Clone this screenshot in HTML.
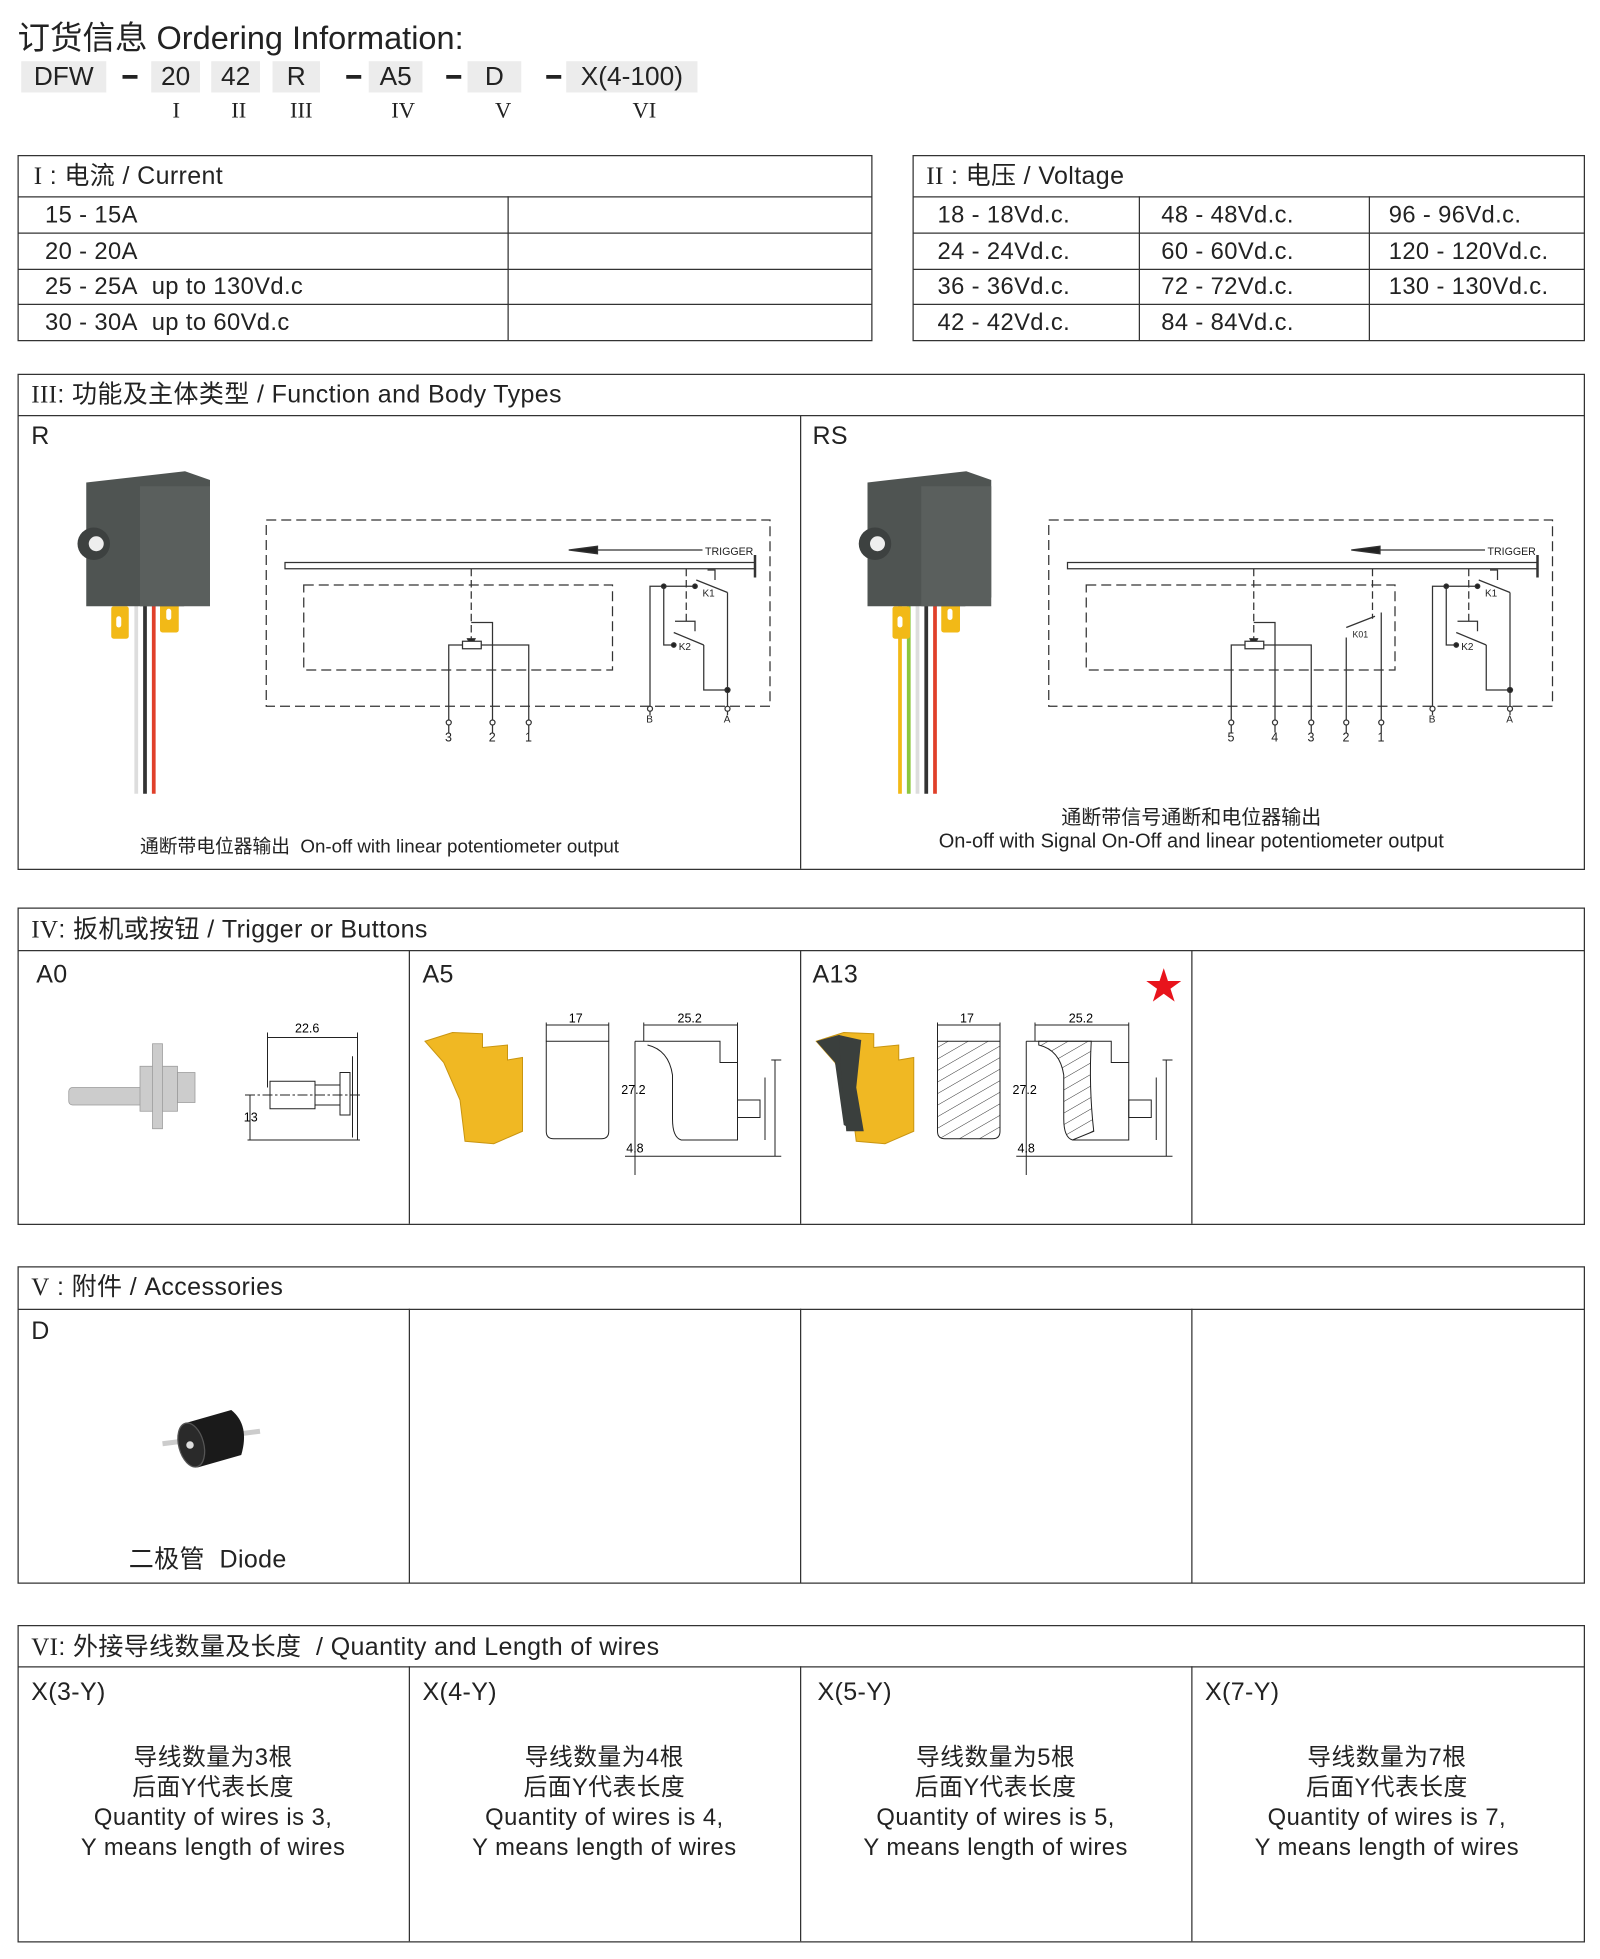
<!DOCTYPE html>
<html><head><meta charset="utf-8">
<style>
html,body{margin:0;padding:0;background:#fff;}
body{width:1600px;height:1959px;overflow:hidden;position:relative;}
#w{position:absolute;left:0;top:0;width:1280px;height:1567px;transform:scale(1.25);transform-origin:0 0;font-family:"Liberation Sans","Noto Sans CJK SC",sans-serif;color:#222;}
.a{position:absolute;}
.box{position:absolute;border:1.6px solid #333;box-sizing:border-box;}
.hl{position:absolute;height:0;border-top:1.6px solid #333;}
.vl{position:absolute;width:0;border-left:1.6px solid #333;}
.code{position:absolute;top:49px;height:25px;background:#ececec;font-size:21px;line-height:26px;text-align:center;}
.dash{position:absolute;top:60px;width:12px;height:3px;background:#222;}
.rn{position:absolute;top:78px;font-family:"Liberation Serif",serif;font-size:18px;}
.t{position:absolute;font-size:19px;white-space:nowrap;letter-spacing:0.3px;}
.h{position:absolute;font-size:20px;white-space:nowrap;line-height:22px;letter-spacing:0.3px;}
.c{position:absolute;font-size:19px;text-align:center;line-height:24px;letter-spacing:0.4px;}
</style></head><body><div id="w">

<div class="a" style="left:14px;top:10px;font-size:26px;">订货信息 Ordering Information:</div>
<div class="code" style="left:17px;width:68px;">DFW</div>
<div class="dash" style="left:98px;"></div>
<div class="code" style="left:121px;width:39px;">20</div>
<div class="code" style="left:169px;width:39px;">42</div>
<div class="code" style="left:218px;width:38px;">R</div>
<div class="dash" style="left:277px;"></div>
<div class="code" style="left:295px;width:43px;">A5</div>
<div class="dash" style="left:357px;"></div>
<div class="code" style="left:374px;width:43px;">D</div>
<div class="dash" style="left:437px;"></div>
<div class="code" style="left:453px;width:105px;">X(4-100)</div>
<div class="rn" style="left:138px;">I</div>
<div class="rn" style="left:185px;">II</div>
<div class="rn" style="left:232px;">III</div>
<div class="rn" style="left:313px;">IV</div>
<div class="rn" style="left:396px;">V</div>
<div class="rn" style="left:506px;">VI</div>

<!-- Table I -->
<div class="box" style="left:14px;top:124px;width:684px;height:149px;"></div>
<div class="hl" style="left:14px;top:157px;width:684px;"></div>
<div class="hl" style="left:14px;top:186px;width:684px;"></div>
<div class="hl" style="left:14px;top:215px;width:684px;"></div>
<div class="hl" style="left:14px;top:243px;width:684px;"></div>
<div class="vl" style="left:406px;top:157px;height:115px;"></div>
<div class="h" style="left:27px;top:130px;"><span style="font-family:'Liberation Serif',serif">I</span> : 电流 / Current</div>
<div class="t" style="left:36px;top:162px;">15 - 15A</div>
<div class="t" style="left:36px;top:191px;">20 - 20A</div>
<div class="t" style="left:36px;top:219px;">25 - 25A&nbsp; up to 130Vd.c</div>
<div class="t" style="left:36px;top:248px;">30 - 30A&nbsp; up to 60Vd.c</div>

<!-- Table II -->
<div class="box" style="left:730px;top:124px;width:538px;height:149px;"></div>
<div class="hl" style="left:730px;top:157px;width:538px;"></div>
<div class="hl" style="left:730px;top:186px;width:538px;"></div>
<div class="hl" style="left:730px;top:215px;width:538px;"></div>
<div class="hl" style="left:730px;top:243px;width:538px;"></div>
<div class="vl" style="left:911px;top:157px;height:115px;"></div>
<div class="vl" style="left:1095px;top:157px;height:115px;"></div>
<div class="h" style="left:741px;top:130px;"><span style="font-family:'Liberation Serif',serif">II</span> : 电压 / Voltage</div>
<div class="t" style="left:750px;top:162px;">18 - 18Vd.c.</div>
<div class="t" style="left:750px;top:191px;">24 - 24Vd.c.</div>
<div class="t" style="left:750px;top:219px;">36 - 36Vd.c.</div>
<div class="t" style="left:750px;top:248px;">42 - 42Vd.c.</div>
<div class="t" style="left:929px;top:162px;">48 - 48Vd.c.</div>
<div class="t" style="left:929px;top:191px;">60 - 60Vd.c.</div>
<div class="t" style="left:929px;top:219px;">72 - 72Vd.c.</div>
<div class="t" style="left:929px;top:248px;">84 - 84Vd.c.</div>
<div class="t" style="left:1111px;top:162px;">96 - 96Vd.c.</div>
<div class="t" style="left:1111px;top:191px;">120 - 120Vd.c.</div>
<div class="t" style="left:1111px;top:219px;">130 - 130Vd.c.</div>

<!-- Section III -->
<div class="box" style="left:14px;top:299px;width:1254px;height:397px;"></div>
<div class="hl" style="left:14px;top:332px;width:1254px;"></div>
<div class="vl" style="left:640px;top:332px;height:363px;"></div>
<div class="h" style="left:25px;top:305px;"><span style="font-family:'Liberation Serif',serif">III</span>: 功能及主体类型 / Function and Body Types</div>
<div class="h" style="left:25px;top:338px;">R</div>
<div class="h" style="left:650px;top:338px;">RS</div>
<div class="a" style="left:112px;top:666px;font-size:15px;white-space:nowrap;">通断带电位器输出&nbsp; On-off with linear potentiometer output</div>
<div class="a" style="left:640px;width:626px;top:645px;font-size:16px;text-align:center;line-height:19px;">通断带信号通断和电位器输出<br>On-off with Signal On-Off and linear potentiometer output</div>

<svg class="a" style="left:0;top:0" width="1280" height="1567" viewBox="0 0 1280 1567">
<defs>
<g id="dev">
 <line x1="109" y1="480" x2="109" y2="635" stroke="#ddd" stroke-width="3"/>
 <line x1="116" y1="480" x2="116" y2="635" stroke="#333" stroke-width="3"/>
 <line x1="123" y1="480" x2="123" y2="635" stroke="#e0402a" stroke-width="3"/>
 <rect x="89" y="485" width="14" height="26" rx="2" fill="#f2b917"/>
 <rect x="128" y="480" width="15" height="26" rx="2" fill="#f2b917"/>
 <rect x="93" y="493" width="4" height="9" rx="2" fill="#fff"/>
 <rect x="133" y="487" width="4" height="9" rx="2" fill="#fff"/>
 <polygon points="69,386 148,377 168,384 168,478 147,485 69,485" fill="#4f5452"/>
 <rect x="112" y="389" width="56" height="96" fill="#5a5f5d"/>
 <circle cx="75" cy="435" r="13" fill="#3d4140"/>
 <circle cx="77" cy="435" r="6" fill="#eee"/>
</g>
<g id="circ" stroke="#333" stroke-width="1" fill="none">
 <rect x="213" y="416" width="403" height="149" stroke-dasharray="8,4"/>
 <rect x="228" y="450" width="376" height="5" fill="#fff"/>
 <line x1="604" y1="444" x2="604" y2="462" stroke-width="2"/>
 <line x1="562" y1="440" x2="475" y2="440"/>
 <path d="M455,440 L478,437 L478,443z" fill="#222"/>
 <text x="564" y="444" font-size="8.5" fill="#222" stroke="none" font-family="Liberation Sans,sans-serif">TRIGGER</text>
 <rect x="243" y="468" width="247" height="68" stroke-dasharray="8,4"/>
 <line x1="377" y1="455" x2="377" y2="513" stroke-dasharray="6,3"/>
 <path d="M374,511 L380,511 L377,517z" fill="#222"/>
 <rect x="370" y="513" width="15" height="6" fill="#fff"/>
 <polyline points="359,586 359,516 370,516"/>
 <polyline points="385,516 423,516 423,586"/>
 <polyline points="377,498 394,498 394,586"/>
 <line x1="549" y1="455" x2="549" y2="498" stroke-dasharray="6,3"/>
 <polyline points="520,572 520,469 556,469"/>
 <circle cx="531" cy="469" r="1.8" fill="#222"/>
 <circle cx="556" cy="469" r="1.8" fill="#222"/>
 <line x1="557" y1="464" x2="582" y2="474"/>
 <polyline points="566,456 572,456 572,464"/>
 <polyline points="582,474 582,572"/>
 <circle cx="582" cy="552" r="2" fill="#222"/>
 <polyline points="582,552 563,552 563,516"/>
 <polyline points="531,469 531,516 539,516"/>
 <circle cx="539" cy="516" r="1.8" fill="#222"/>
 <line x1="539" y1="506" x2="563" y2="516"/>
 <polyline points="540,497 556,497 556,505"/>
 <g fill="#222" stroke="none" font-family="Liberation Sans,sans-serif">
 <text x="562" y="477" font-size="8">K1</text>
 <text x="543" y="520" font-size="8">K2</text>
 <text x="517" y="578" font-size="8">B</text>
 <text x="579" y="578" font-size="8">A</text>
 </g>
 <circle cx="359" cy="578" r="2" fill="#fff"/>
 <circle cx="394" cy="578" r="2" fill="#fff"/>
 <circle cx="423" cy="578" r="2" fill="#fff"/>
 <circle cx="520" cy="567" r="2" fill="#fff"/>
 <circle cx="582" cy="567" r="2" fill="#fff"/>
</g>
</defs>
<use href="#circ"/>
<g fill="#222" font-size="10" font-family="Liberation Sans,sans-serif">
 <text x="356" y="593">3</text><text x="391" y="593">2</text><text x="420" y="593">1</text>
</g>
<g transform="translate(626,0)">
 <use href="#circ"/>
 <g stroke="#333" stroke-width="1" fill="none">
 <line x1="472" y1="455" x2="472" y2="495" stroke-dasharray="6,3"/>
 <polyline points="451,586 451,510"/>
 <polyline points="479,586 479,490"/>
 <line x1="451" y1="502" x2="474" y2="493"/>
 <circle cx="451" cy="578" r="2" fill="#fff"/>
 <circle cx="479" cy="578" r="2" fill="#fff"/>
 </g>
 <g fill="#222" font-size="10" font-family="Liberation Sans,sans-serif">
 <text x="456" y="510" font-size="7">K01</text>
 <text x="356" y="593">5</text><text x="391" y="593">4</text><text x="420" y="593">3</text>
 <text x="448" y="593">2</text><text x="476" y="593">1</text>
 </g>
</g>
<use href="#dev"/>
<g transform="translate(625,0)">
 <line x1="102" y1="480" x2="102" y2="635" stroke="#8cc63f" stroke-width="3"/>
 <line x1="95" y1="480" x2="95" y2="635" stroke="#f2b917" stroke-width="3"/>
 <use href="#dev"/>
</g>
</svg>

<!-- Section IV -->
<div class="box" style="left:14px;top:726px;width:1254px;height:254px;"></div>
<div class="hl" style="left:14px;top:760px;width:1254px;"></div>
<div class="vl" style="left:327px;top:760px;height:219px;"></div>
<div class="vl" style="left:640px;top:760px;height:219px;"></div>
<div class="vl" style="left:953px;top:760px;height:219px;"></div>
<div class="h" style="left:25px;top:733px;"><span style="font-family:'Liberation Serif',serif">IV</span>: 扳机或按钮 / Trigger or Buttons</div>
<div class="h" style="left:29px;top:769px;">A0</div>
<div class="h" style="left:338px;top:769px;">A5</div>
<div class="h" style="left:650px;top:769px;">A13</div>
<div class="a" style="left:916px;top:764px;font-size:30px;color:#e8141c;">★</div>

<svg class="a" style="left:0;top:0" width="1280" height="1567" viewBox="0 0 1280 1567" font-family="Liberation Sans,sans-serif">
<g fill="#ccc" stroke="#999" stroke-width="0.6">
 <rect x="55" y="870" width="60" height="14" rx="3"/>
 <rect x="112" y="853" width="30" height="36"/>
 <rect x="122" y="835" width="8" height="68"/>
 <rect x="142" y="858" width="14" height="24"/>
</g>
<g stroke="#222" stroke-width="0.8" fill="none">
 <line x1="214" y1="830" x2="286" y2="830"/><line x1="214" y1="826" x2="214" y2="870"/><line x1="286" y1="826" x2="286" y2="912"/>
 <rect x="216" y="865" width="36" height="22"/><rect x="252" y="868" width="20" height="16"/>
 <rect x="272" y="858" width="8" height="34"/>
 <line x1="282" y1="845" x2="282" y2="910"/>
 <line x1="198" y1="912" x2="288" y2="912"/><line x1="200" y1="876" x2="200" y2="912"/>
 <line x1="196" y1="876" x2="290" y2="876" stroke-dasharray="8,2,2,2"/>
</g>
<text x="236" y="826" font-size="10">22.6</text>
<text x="195" y="897" font-size="10">13</text>

<path d="M340,833 L362,826 L386,827 L386,838 L406,836 L406,848 L418,846 L418,905 L395,915 L372,913 L368,880 L355,850 Z" fill="#f0b823" stroke="#c99510" stroke-width="0.8"/>
<g stroke="#222" stroke-width="0.8" fill="none">
 <path d="M437,833 L487,833 L487,905 Q487,911 481,911 L443,911 Q437,911 437,905 Z"/>
 <line x1="437" y1="820" x2="487" y2="820"/><line x1="437" y1="818" x2="437" y2="833"/><line x1="487" y1="818" x2="487" y2="833"/>
 <line x1="515" y1="820" x2="590" y2="820"/><line x1="515" y1="818" x2="515" y2="833"/><line x1="590" y1="818" x2="590" y2="850"/>
 <path d="M508,833 L576,833 L576,850 L590,850 L590,912 L545,912 Q538,910 538,895 L538,860 Q535,840 518,836"/>
 <line x1="508" y1="833" x2="508" y2="940"/>
 <line x1="500" y1="925" x2="625" y2="925"/>
 <rect x="590" y="880" width="18" height="14"/>
 <line x1="612" y1="862" x2="612" y2="912"/><line x1="620" y1="848" x2="620" y2="925"/><line x1="617" y1="848" x2="625" y2="848"/>
</g>
<text x="455" y="818" font-size="10">17</text>
<text x="542" y="818" font-size="10">25.2</text>
<text x="497" y="875" font-size="10">27.2</text>
<text x="501" y="922" font-size="10">4.8</text>

<g transform="translate(313,0)">
<path d="M340,833 L362,826 L386,827 L386,838 L406,836 L406,848 L418,846 L418,905 L395,915 L372,913 L368,880 L355,850 Z" fill="#f0b823" stroke="#c99510" stroke-width="0.8"/>
<path d="M340,833 L358,828 L372,832 L366,848 L370,880 L372,905 L362,900 L355,850 Z" fill="#3a3f3d"/>
<path d="M358,828 L376,832 L372,870 L378,905 L364,905 L360,860 Z" fill="#3a3f3d"/>
<defs><pattern id="hat" width="8" height="8" patternUnits="userSpaceOnUse" patternTransform="rotate(60)"><line x1="0" y1="0" x2="0" y2="8" stroke="#333" stroke-width="0.8"/></pattern></defs>
<g stroke="#222" stroke-width="0.8" fill="none">
 <path d="M437,833 L487,833 L487,905 Q487,911 481,911 L443,911 Q437,911 437,905 Z" fill="url(#hat)"/>
 <line x1="437" y1="820" x2="487" y2="820"/><line x1="437" y1="818" x2="437" y2="833"/><line x1="487" y1="818" x2="487" y2="833"/>
 <line x1="515" y1="820" x2="590" y2="820"/><line x1="515" y1="818" x2="515" y2="833"/><line x1="590" y1="818" x2="590" y2="850"/>
 <path d="M518,833 L560,833 Q558,870 562,905 L545,912 Q538,910 538,895 L538,860 Q535,840 518,836 Z" fill="url(#hat)"/>
 <path d="M508,833 L576,833 L576,850 L590,850 L590,912 L545,912"/>
 <line x1="508" y1="833" x2="508" y2="940"/>
 <line x1="500" y1="925" x2="625" y2="925"/>
 <rect x="590" y="880" width="18" height="14"/>
 <line x1="612" y1="862" x2="612" y2="912"/><line x1="620" y1="848" x2="620" y2="925"/><line x1="617" y1="848" x2="625" y2="848"/>
</g>
<text x="455" y="818" font-size="10">17</text>
<text x="542" y="818" font-size="10">25.2</text>
<text x="497" y="875" font-size="10">27.2</text>
<text x="501" y="922" font-size="10">4.8</text>
</g>

<line x1="130" y1="1155" x2="208" y2="1145" stroke="#ccc" stroke-width="4"/>
<path d="M150,1138 L185,1128 Q200,1140 193,1164 L158,1174 Z" fill="#1a1a1a"/>
<ellipse cx="153" cy="1156" rx="10" ry="18" transform="rotate(-15 153 1156)" fill="#2a2a2a" stroke="#555"/>
<circle cx="152" cy="1156" r="3" fill="#ddd"/>
</svg>

<!-- Section V -->
<div class="box" style="left:14px;top:1013px;width:1254px;height:254px;"></div>
<div class="hl" style="left:14px;top:1047px;width:1254px;"></div>
<div class="vl" style="left:327px;top:1047px;height:219px;"></div>
<div class="vl" style="left:640px;top:1047px;height:219px;"></div>
<div class="vl" style="left:953px;top:1047px;height:219px;"></div>
<div class="h" style="left:25px;top:1019px;"><span style="font-family:'Liberation Serif',serif">V</span> : 附件 / Accessories</div>
<div class="h" style="left:25px;top:1054px;">D</div>
<div class="h" style="left:103px;top:1237px;">二极管&nbsp; Diode</div>

<!-- Section VI -->
<div class="box" style="left:14px;top:1300px;width:1254px;height:254px;"></div>
<div class="hl" style="left:14px;top:1333px;width:1254px;"></div>
<div class="vl" style="left:327px;top:1333px;height:220px;"></div>
<div class="vl" style="left:640px;top:1333px;height:220px;"></div>
<div class="vl" style="left:953px;top:1333px;height:220px;"></div>
<div class="h" style="left:25px;top:1307px;"><span style="font-family:'Liberation Serif',serif">VI</span>: 外接导线数量及长度&nbsp; / Quantity and Length of wires</div>
<div class="h" style="left:25px;top:1343px;">X(3-Y)</div>
<div class="h" style="left:338px;top:1343px;">X(4-Y)</div>
<div class="h" style="left:654px;top:1343px;">X(5-Y)</div>
<div class="h" style="left:964px;top:1343px;">X(7-Y)</div>
<div class="c" style="left:14px;width:313px;top:1395px;">导线数量为3根<br>后面Y代表长度<br>Quantity of wires is 3,<br>Y means length of wires</div>
<div class="c" style="left:327px;width:313px;top:1395px;">导线数量为4根<br>后面Y代表长度<br>Quantity of wires is 4,<br>Y means length of wires</div>
<div class="c" style="left:640px;width:313px;top:1395px;">导线数量为5根<br>后面Y代表长度<br>Quantity of wires is 5,<br>Y means length of wires</div>
<div class="c" style="left:953px;width:313px;top:1395px;">导线数量为7根<br>后面Y代表长度<br>Quantity of wires is 7,<br>Y means length of wires</div>

</div></body></html>
